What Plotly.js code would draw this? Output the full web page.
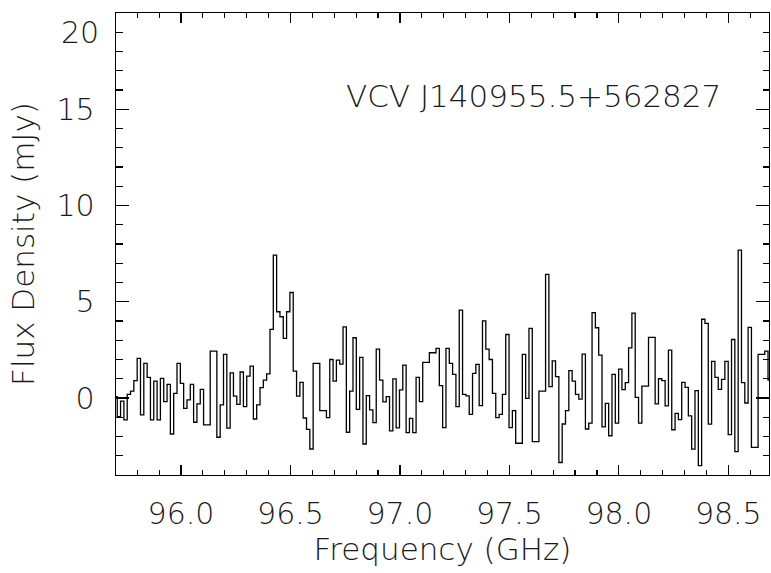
<!DOCTYPE html>
<html><head><meta charset="utf-8">
<script src="https://cdn.plot.ly/plotly-3.0.1.min.js"></script>
<style>body{margin:0;background:#fff}#chart{width:771px;height:573px}</style>
</head><body><div id="chart"></div>
<script>
// Channel grid (GHz): centre of first channel and channel width
const freqStart = 95.7012;
const chanWidth = 0.015167;
// Flux density per channel (mJy)
const fluxDensity = [
 0.07,-0.97,-0.16,-1.14,0.19,0.36,0.90,2.06,-0.88,1.80,
 1.07,-1.14,0.88,-1.14,1.02,-0.19,0.71,-1.87,0.24,1.80,
 0.76,-0.54,-0.10,0.71,-1.26,-0.31,0.45,-1.40,-1.40,2.44,
 2.44,-2.04,-0.36,2.27,-1.57,1.31,0.10,-0.33,1.35,-0.45,
 1.14,1.66,-1.09,-0.36,0.54,0.93,1.25,3.56,7.42,4.48,
 4.22,3.10,4.48,5.48,1.40,0.10,0.81,-1.04,-1.63,-2.65,
 1.80,1.80,-0.66,-0.66,-1.02,2.00,0.88,1.97,1.76,3.69,
 -1.78,0.36,3.13,-0.59,2.11,-2.39,0.12,-0.62,-1.28,2.54,
 0.93,-0.20,0.07,-1.71,0.99,-1.55,0.42,1.71,-1.80,-1.06,
 -1.80,1.07,-0.19,1.85,1.85,2.35,2.35,2.58,0.64,-1.54,
 2.58,1.80,1.23,-0.45,4.57,0.19,0.11,-0.85,1.28,1.75,
 -0.40,4.01,2.54,2.00,0.24,-1.02,-0.85,0.19,3.30,-1.54,
 -0.66,-2.35,-2.35,2.27,-0.02,3.62,-2.27,-2.27,0.36,0.36,
 6.42,0.59,1.93,1.11,-3.35,-1.35,-0.66,1.42,0.88,0.19,
 -0.06,2.28,-1.61,-1.31,4.43,3.65,2.23,-1.50,-0.28,-1.96,
 1.23,-1.31,1.50,0.43,0.80,2.60,4.41,0.03,-1.30,0.62,
 0.62,3.15,3.15,-0.31,1.00,0.90,-0.41,2.49,-1.65,-0.80,
 -1.12,0.81,0.55,-0.93,-2.66,0.38,-3.51,4.09,3.88,-1.36,
 1.90,1.07,0.45,0.97,1.90,-1.90,3.04,-2.79,7.68,0.80,
 -0.26,3.67,-2.56,-2.56,2.27,2.27,2.44,0.93
];
const xTickVals = [96.0, 96.5, 97.0, 97.5, 98.0, 98.5];
const xTickText = ['96.0', '96.5', '97.0', '97.5', '98.0', '98.5'];
const yTickVals = [0, 5, 10, 15, 20];
const yTickText = ['0', '5', '10', '15', ''];   // "20" is drawn as an annotation, inside the frame
const yTopLabel = '20';
const sourceName = 'VCV J140955.5+562827';

const frequency = fluxDensity.map((_, i) => freqStart + i * chanWidth);

const TICKFONT = {family: 'DejaVu Sans, Liberation Sans, sans-serif', size: 30, color: '#1a1a1a', weight: 200};
const TITLEFONT = {family: 'DejaVu Sans, Liberation Sans, sans-serif', size: 31, color: '#1a1a1a', weight: 200};

const trace = {
  x: frequency, y: fluxDensity, type: 'scatter', mode: 'lines',
  line: {shape: 'hvh', color: '#000', width: 1.3},
  hoverinfo: 'skip'
};

const layout = {
  width: 771, height: 573,
  margin: {l: 116, r: 2, t: 13, b: 98},
  paper_bgcolor: '#fff', plot_bgcolor: '#fff',
  showlegend: false,
  font: TICKFONT,
  xaxis: {
    range: [95.7031, 98.6859], showgrid: false, zeroline: false,
    showline: true, linecolor: '#000', linewidth: 1.3, mirror: 'allticks',
    ticks: 'inside', ticklen: 10, tickwidth: 1.2, tickcolor: '#000',
    tickvals: xTickVals, ticktext: xTickText, tickfont: TICKFONT,
    ticklabelstandoff: 12,
    minor: {dtick: 0.1, tick0: 96.0, ticks: 'inside', ticklen: 5, tickwidth: 1.2, tickcolor: '#000', showgrid: false},
    title: {text: 'Frequency (GHz)', font: TITLEFONT, standoff: 6}
  },
  yaxis: {
    range: [-4, 20], showgrid: false, zeroline: false,
    showline: true, linecolor: '#000', linewidth: 1.3, mirror: 'allticks',
    ticks: 'inside', ticklen: 13, tickwidth: 1.2, tickcolor: '#000',
    tickvals: yTickVals, ticktext: yTickText, tickfont: TICKFONT,
    ticklabelstandoff: 14,
    minor: {dtick: 1, tick0: 0, ticks: 'inside', ticklen: 6.5, tickwidth: 1.2, tickcolor: '#000', showgrid: false},
    title: {text: 'Flux Density (mJy)', font: TITLEFONT, standoff: 12}
  },
  annotations: [
    {text: sourceName, xref: 'paper', yref: 'y', x: 0.93, y: 15.7,
     xanchor: 'right', yanchor: 'middle', showarrow: false, font: TITLEFONT},
    {text: yTopLabel, xref: 'paper', yref: 'y', x: 0, y: 20, xshift: -15,
     xanchor: 'right', yanchor: 'top', showarrow: false, font: TICKFONT}
  ]
};

Plotly.newPlot('chart', [trace], layout, {staticPlot: true, displayModeBar: false});
</script>
</body></html>
